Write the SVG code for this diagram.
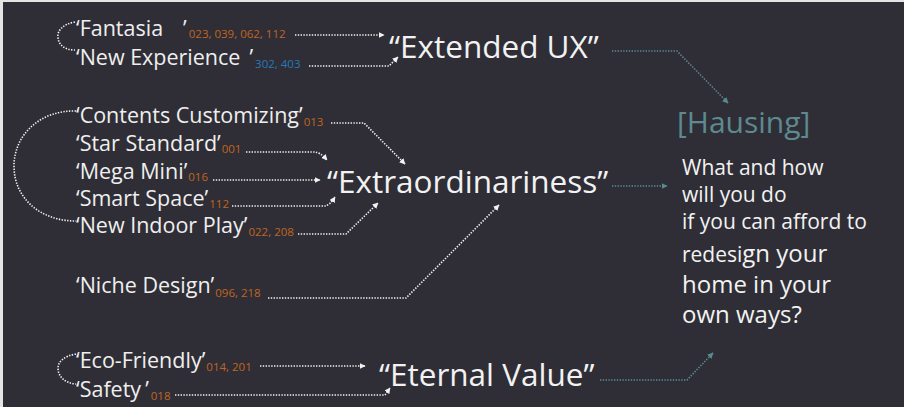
<svg xmlns="http://www.w3.org/2000/svg" width="904" height="407" viewBox="0 0 904 407">
<defs>
<marker id="aw" viewBox="0 0 10 10" refX="9" refY="5" markerWidth="6" markerHeight="6" orient="auto" markerUnits="userSpaceOnUse"><path d="M0,0 L10,5 L0,10 z" fill="#f2f2f2"/></marker>
<marker id="at" viewBox="0 0 10 10" refX="9" refY="5" markerWidth="6" markerHeight="6" orient="auto" markerUnits="userSpaceOnUse"><path d="M0,0 L10,5 L0,10 z" fill="#5a8a90"/></marker>
<style>
.lbl{font-family:"Open Sans","Liberation Sans",sans-serif;font-size:21.5px;fill:#efefef}
.num{font-size:11.5px;fill:#c0651f}
.blue{fill:#2a78b8}
.big{font-family:"Open Sans","Liberation Sans",sans-serif;font-size:31.5px;fill:#f2f2f2}
.haus{font-family:"Open Sans","Liberation Sans",sans-serif;font-size:30px;fill:#5d8a90}
.qt{font-family:"Open Sans","Liberation Sans",sans-serif;font-size:21px;fill:#f2f2f2}
.qt2{font-size:24px}
.dw{fill:none;stroke:#f2f2f2;stroke-width:1.6;stroke-dasharray:1.4 1.4}
.dt{fill:none;stroke:#5a8a90;stroke-width:1.6;stroke-dasharray:1.4 1.4}
</style>
</defs>
<rect x="0" y="0" width="904" height="407" fill="#e4e4e4"/>
<rect x="3" y="2" width="901" height="405" fill="#2f2e36"/>

<g id="fantasia"><text class="lbl" x="76" y="36">‘Fantasia<tspan dx="20">’</tspan><tspan class="num" dx="2" dy="2">023, 039, 062, 112</tspan></text></g>
<g id="new-experience"><text class="lbl" x="76" y="65">‘New Experience<tspan dx="9">’</tspan><tspan class="num blue" dx="2" dy="3">302, 403</tspan></text></g>
<g id="extended-ux"><text class="big" x="389" y="58">“Extended UX”</text></g>

<g id="contents-customizing"><text class="lbl" x="76" y="123">‘Contents Customizing’<tspan class="num" dx="1" dy="3">013</tspan></text></g>
<g id="star-standard"><text class="lbl" x="76" y="151">‘Star Standard’<tspan class="num" dx="1" dy="2">001</tspan></text></g>
<g id="mega-mini"><text class="lbl" x="76" y="179">‘Mega Mini’<tspan class="num" dx="1" dy="2">016</tspan></text></g>
<g id="smart-space"><text class="lbl" x="76" y="206">‘Smart Space’<tspan class="num" dx="1" dy="2">112</tspan></text></g>
<g id="new-indoor-play"><text class="lbl" x="76" y="233">‘New Indoor Play’<tspan class="num" dx="1" dy="3">022, 208</tspan></text></g>
<g id="niche-design"><text class="lbl" x="76" y="293">‘Niche Design’<tspan class="num" dx="1" dy="4">096, 218</tspan></text></g>
<g id="extraordinariness"><text class="big" x="327" y="193">“Extraordinariness”</text></g>

<g id="eco-friendly"><text class="lbl" x="76" y="368">‘Eco-Friendly’<tspan class="num" dx="1" dy="3">014, 201</tspan></text></g>
<g id="safety"><text class="lbl" x="76" y="397">‘Safety<tspan dx="4">’</tspan><tspan class="num" dx="2" dy="3">018</tspan></text></g>
<g id="eternal-value"><text class="big" x="379" y="386">“Eternal Value”</text></g>

<g id="hausing"><text class="haus" x="677" y="133">[Hausing]</text>
<text class="qt"><tspan x="682" y="175">What and how</tspan><tspan x="682" y="202">will you do</tspan><tspan x="682" y="229">if you can afford to</tspan><tspan x="682" y="262">redesi<tspan class="qt2">gn your</tspan></tspan><tspan class="qt2" x="682" y="293">home in your</tspan><tspan class="qt2" x="682" y="323">own ways?</tspan></text></g>

<g id="connectors">
<path class="dw" d="M75,22 C62,24 57,32 58,37 C58,44 64,50 75,50"/>
<path class="dw" d="M76,111 C40,110 14,135 14,166 C14,198 40,221 76,221"/>
<path class="dw" d="M76,354 C64,356 58,362 58,368 C58,376 64,383 76,384"/>
<path class="dw" d="M295,35 L384,35" marker-end="url(#aw)"/>
<path class="dw" d="M309,66 L389,66 L398,57" marker-end="url(#aw)"/>
<path class="dw" d="M331,123 L364,123 L405,164" marker-end="url(#aw)"/>
<path class="dw" d="M246,152 L314,152 Q320,152 327,160" marker-end="url(#aw)"/>
<path class="dw" d="M213,180 L320,180" marker-end="url(#aw)"/>
<path class="dw" d="M232,206 L325,206 Q330,205 335,197" marker-end="url(#aw)"/>
<path class="dw" d="M298,234 L346,234 L378,203" marker-end="url(#aw)"/>
<path class="dw" d="M268,298 L406,298 L499,205" marker-end="url(#aw)"/>
<path class="dw" d="M260,366 L365,366" marker-end="url(#aw)"/>
<path class="dw" d="M175,395 L385,395 L390,388" marker-end="url(#aw)"/>
<path class="dt" d="M612,51 L677,51 L728,103" marker-end="url(#at)"/>
<path class="dt" d="M612,186 L667,186" marker-end="url(#at)"/>
<path class="dt" d="M600,380 L687,380 L713,353" marker-end="url(#at)"/>
</g>
</svg>
